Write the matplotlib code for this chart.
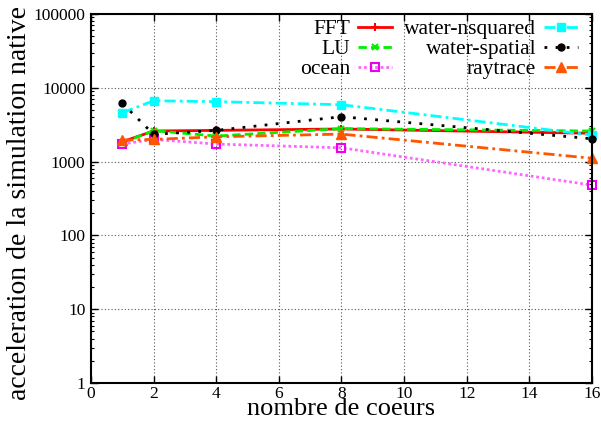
import matplotlib
matplotlib.use("Agg")
import matplotlib.pyplot as plt
from matplotlib.ticker import FixedLocator, LogLocator, NullFormatter

plt.rcParams['font.family'] = ['Liberation Serif', 'DejaVu Serif']

cores = [1, 2, 4, 8, 16]
fft = [1860, 2600, 2650, 2770, 2420]
lu = [1800, 2630, 2220, 2800, 2600]
ocean = [1730, 2000, 1730, 1540, 480]
water_nsquared = [4600, 6680, 6500, 5900, 2290]
water_spatial = [6170, 2340, 2650, 4060, 2040]
raytrace = [1960, 2000, 2170, 2360, 1110]

x_ticks = [0, 2, 4, 6, 8, 10, 12, 14, 16]
y_ticks = [1, 10, 100, 1000, 10000, 100000]
y_tick_labels = ['1', '10', '100', '1000', '10000', '100000']

fig = plt.figure(figsize=(6.01, 4.25), dpi=100)
ax = fig.add_axes([0.1514, 0.0988, 0.8336, 0.8682])

series = [
    ('FFT', fft, dict(color='#ff0000', ls='-', marker='+', ms=6, mew=1.5, lw=2.0)),
    ('LU', lu, dict(color='#00ee00', ls=(0, (3, 1.5)), marker='x', ms=5, mew=1.5, lw=2.0)),
    ('ocean', ocean, dict(color='#ff66ff', ls=(0, (1, 1)), marker='s', ms=6, mfc='none',
                          mec='#ee00ee', mew=1.5, lw=2.0)),
    ('water-nsquared', water_nsquared, dict(color='#00ffff', ls=(0, (4, 1.5, 1, 1.5)),
                                            marker='s', ms=6, lw=2.0)),
    ('water-spatial', water_spatial, dict(color='#000000', ls=(0, (1, 3)), marker='o',
                                          ms=5, lw=2.0)),
    ('raytrace', raytrace, dict(color='#ff5500', ls=(0, (4, 1.5, 1, 1.5)), marker='^',
                                ms=7, lw=2.0)),
]

for name, vals, style in series:
    ax.plot(cores, vals, label=name, clip_on=False, **style)

ax.set_yscale('log')
ax.set_xlim(0, 16)
ax.set_ylim(1, 100000)
ax.xaxis.set_major_locator(FixedLocator(x_ticks))
ax.set_xticklabels([str(t) for t in x_ticks])
ax.yaxis.set_major_locator(FixedLocator(y_ticks))
ax.set_yticklabels(y_tick_labels)
ax.yaxis.set_minor_locator(LogLocator(base=10, subs=[2, 3, 4, 5, 6, 7, 8, 9]))
ax.yaxis.set_minor_formatter(NullFormatter())

ax.tick_params(which='both', direction='in', top=True, right=True, labelsize=12.5)
ax.tick_params(axis='x', pad=2)
ax.tick_params(axis='y', pad=4)
ax.tick_params(which='major', length=5, width=1)
ax.tick_params(which='minor', length=2.5, width=0.8)
for s in ax.spines.values():
    s.set_linewidth(1.5)

ax.grid(True, which='major', color='#555555', ls=(0, (1, 2)), lw=0.8)

ax.set_xlabel('nombre de coeurs', fontsize=19, labelpad=-3)
ax.set_ylabel('acceleration de la simulation native', fontsize=20)
ax.yaxis.set_label_coords(-0.117, 0.488)

leg = ax.legend(loc='upper right', bbox_to_anchor=(0.981, 0.998), ncol=2,
                markerfirst=False, frameon=False, fontsize=15.5, handlelength=1.6,
                handletextpad=0.35, columnspacing=0.55, labelspacing=0.0,
                borderaxespad=0.0, borderpad=0.2)
for t in leg.get_texts():
    t.set_ha('right')

fig.savefig('out.png', dpi=100)
